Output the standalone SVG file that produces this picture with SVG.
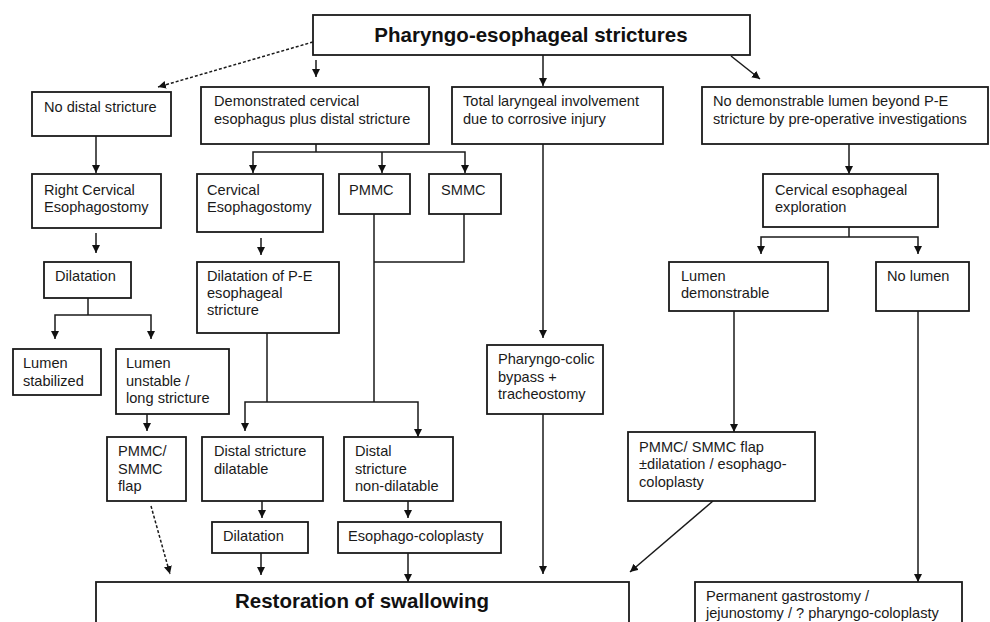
<svg xmlns="http://www.w3.org/2000/svg" width="990" height="622" viewBox="0 0 990 622">
<style>
  .box { fill: #ffffff; stroke: #1a1a1a; stroke-width: 1.8; }
  .t { font-family: "Liberation Sans", Arial, sans-serif; font-size: 14.6px; fill: #1a1a1a; }
  .title { font-family: "Liberation Sans", Arial, sans-serif; font-size: 20.5px; font-weight: bold; fill: #111111; }
  .c { fill: none; stroke: #1a1a1a; stroke-width: 1.5; }
  .a { marker-end: url(#arr); }
  .d { stroke-dasharray: 3 2; }
</style>
<defs>
  <marker id="arr" markerUnits="userSpaceOnUse" markerWidth="10" markerHeight="10" refX="8" refY="4" orient="auto">
    <path d="M0,0 L8,4 L0,8 Z" fill="#111111"/>
  </marker>
</defs>
<rect width="990" height="622" fill="#ffffff"/>

<g id="connectors">
  <line class="c a d" x1="313" y1="42" x2="158" y2="87"/>
  <line class="c a" x1="316" y1="60" x2="316" y2="77"/>
  <line class="c a" x1="543" y1="55" x2="543" y2="86"/>
  <line class="c a" x1="731" y1="56" x2="760" y2="79"/>
  <line class="c a" x1="96" y1="136" x2="96" y2="173"/>
  <line class="c a" x1="96" y1="233" x2="96" y2="253"/>
  <polyline class="c" points="88,298 88,315"/>
  <polyline class="c a" points="88,315 55,315 55,339"/>
  <polyline class="c a" points="88,315 151,315 151,339"/>
  <line class="c a" x1="147" y1="414" x2="147" y2="431"/>
  <line class="c a d" x1="151" y1="506" x2="170" y2="574"/>
  <line class="c" x1="316" y1="144" x2="316" y2="152"/>
  <polyline class="c a" points="316,152 253,152 253,173"/>
  <line class="c a" x1="382" y1="152" x2="382" y2="173"/>
  <polyline class="c a" points="316,152 465,152 465,173"/>
  <line class="c a" x1="261" y1="238" x2="261" y2="255"/>
  <line class="c" x1="374" y1="214" x2="374" y2="402"/>
  <polyline class="c" points="464,214 464,262 374,262"/>
  <line class="c" x1="267" y1="333" x2="267" y2="402"/>
  <polyline class="c a" points="267,402 245,402 245,431"/>
  <polyline class="c a" points="267,402 418,402 418,437"/>
  <line class="c a" x1="262" y1="501" x2="262" y2="518"/>
  <line class="c a" x1="408" y1="501" x2="408" y2="518"/>
  <line class="c a" x1="261" y1="553" x2="261" y2="575"/>
  <line class="c a" x1="408" y1="553" x2="408" y2="582"/>
  <line class="c a" x1="543" y1="144" x2="543" y2="338"/>
  <line class="c a" x1="543" y1="414" x2="543" y2="574"/>
  <line class="c a" x1="849" y1="144" x2="849" y2="174"/>
  <line class="c" x1="849" y1="227" x2="849" y2="237"/>
  <polyline class="c a" points="849,237 761,237 761,254"/>
  <polyline class="c a" points="849,237 918,237 918,254"/>
  <line class="c a" x1="734" y1="311" x2="734" y2="432"/>
  <line class="c a" x1="918" y1="311" x2="918" y2="582"/>
  <line class="c a" x1="713" y1="501" x2="630" y2="572"/>
</g>

<g id="n-top">
  <rect class="box" x="313" y="15" width="437" height="40"/>
  <text class="title" x="531" y="42" text-anchor="middle">Pharyngo-esophageal strictures</text>
</g>
<g id="n-nodistal">
  <rect class="box" x="32" y="92" width="139" height="44"/>
  <text class="t" x="44" y="112">No distal stricture</text>
</g>
<g id="n-demonstrated">
  <rect class="box" x="201" y="87" width="228" height="57"/>
  <text class="t" x="214" y="106">Demonstrated cervical</text>
  <text class="t" x="214" y="124">esophagus plus distal stricture</text>
</g>
<g id="n-laryngeal">
  <rect class="box" x="452" y="87" width="211" height="57"/>
  <text class="t" x="463" y="106">Total laryngeal involvement</text>
  <text class="t" x="463" y="124">due to corrosive injury</text>
</g>
<g id="n-nolumenbeyond">
  <rect class="box" x="702" y="87" width="286" height="57"/>
  <text class="t" x="713" y="106">No demonstrable lumen beyond P-E</text>
  <text class="t" x="713" y="124">stricture by pre-operative investigations</text>
</g>
<g id="n-rightcervical">
  <rect class="box" x="32" y="174" width="129" height="54"/>
  <text class="t" x="44" y="195">Right Cervical</text>
  <text class="t" x="44" y="212">Esophagostomy</text>
</g>
<g id="n-cervical">
  <rect class="box" x="197" y="174" width="126" height="58"/>
  <text class="t" x="207" y="195">Cervical</text>
  <text class="t" x="207" y="212">Esophagostomy</text>
</g>
<g id="n-pmmc">
  <rect class="box" x="339" y="174" width="71" height="40"/>
  <text class="t" x="349" y="195">PMMC</text>
</g>
<g id="n-smmc">
  <rect class="box" x="429" y="174" width="72" height="40"/>
  <text class="t" x="441" y="195">SMMC</text>
</g>
<g id="n-exploration">
  <rect class="box" x="763" y="174" width="175" height="53"/>
  <text class="t" x="775" y="195">Cervical esophageal</text>
  <text class="t" x="775" y="212">exploration</text>
</g>
<g id="n-dilatation1">
  <rect class="box" x="44" y="262" width="87" height="36"/>
  <text class="t" x="55" y="281">Dilatation</text>
</g>
<g id="n-dilatationpe">
  <rect class="box" x="197" y="262" width="142" height="71"/>
  <text class="t" x="207" y="281">Dilatation of P-E</text>
  <text class="t" x="207" y="298">esophageal</text>
  <text class="t" x="207" y="315">stricture</text>
</g>
<g id="n-lumendemo">
  <rect class="box" x="669" y="262" width="159" height="49"/>
  <text class="t" x="681" y="281">Lumen</text>
  <text class="t" x="681" y="298">demonstrable</text>
</g>
<g id="n-nolumen">
  <rect class="box" x="876" y="262" width="93" height="49"/>
  <text class="t" x="887" y="281">No lumen</text>
</g>
<g id="n-stabilized">
  <rect class="box" x="13" y="349" width="88" height="46"/>
  <text class="t" x="23" y="368">Lumen</text>
  <text class="t" x="23" y="386">stabilized</text>
</g>
<g id="n-unstable">
  <rect class="box" x="116" y="349" width="113" height="65"/>
  <text class="t" x="126" y="368">Lumen</text>
  <text class="t" x="126" y="386">unstable /</text>
  <text class="t" x="126" y="403">long stricture</text>
</g>
<g id="n-pharyngocolic">
  <rect class="box" x="487" y="345" width="116" height="69"/>
  <text class="t" x="498" y="364">Pharyngo-colic</text>
  <text class="t" x="498" y="382">bypass +</text>
  <text class="t" x="498" y="399">tracheostomy</text>
</g>
<g id="n-flapleft">
  <rect class="box" x="107" y="437" width="79" height="64"/>
  <text class="t" x="118" y="456">PMMC/</text>
  <text class="t" x="118" y="474">SMMC</text>
  <text class="t" x="118" y="491">flap</text>
</g>
<g id="n-dilatable">
  <rect class="box" x="202" y="437" width="121" height="64"/>
  <text class="t" x="214" y="456">Distal stricture</text>
  <text class="t" x="214" y="474">dilatable</text>
</g>
<g id="n-nondilatable">
  <rect class="box" x="344" y="437" width="109" height="64"/>
  <text class="t" x="355" y="456">Distal</text>
  <text class="t" x="355" y="474">stricture</text>
  <text class="t" x="355" y="491">non-dilatable</text>
</g>
<g id="n-flapright">
  <rect class="box" x="628" y="432" width="187" height="69"/>
  <text class="t" x="639" y="452">PMMC/ SMMC flap</text>
  <text class="t" x="639" y="469">±dilatation / esophago-</text>
  <text class="t" x="639" y="487">coloplasty</text>
</g>
<g id="n-dilatation2">
  <rect class="box" x="212" y="522" width="96" height="31"/>
  <text class="t" x="223" y="541">Dilatation</text>
</g>
<g id="n-coloplasty">
  <rect class="box" x="338" y="522" width="163" height="31"/>
  <text class="t" x="348" y="541">Esophago-coloplasty</text>
</g>
<g id="n-restoration">
  <rect class="box" x="96" y="582" width="533" height="60"/>
  <text class="title" x="362" y="608" text-anchor="middle">Restoration of swallowing</text>
</g>
<g id="n-permanent">
  <rect class="box" x="695" y="582" width="267" height="60"/>
  <text class="t" x="706" y="601">Permanent gastrostomy /</text>
  <text class="t" x="706" y="618">jejunostomy / ? pharyngo-coloplasty</text>
</g>
</svg>
